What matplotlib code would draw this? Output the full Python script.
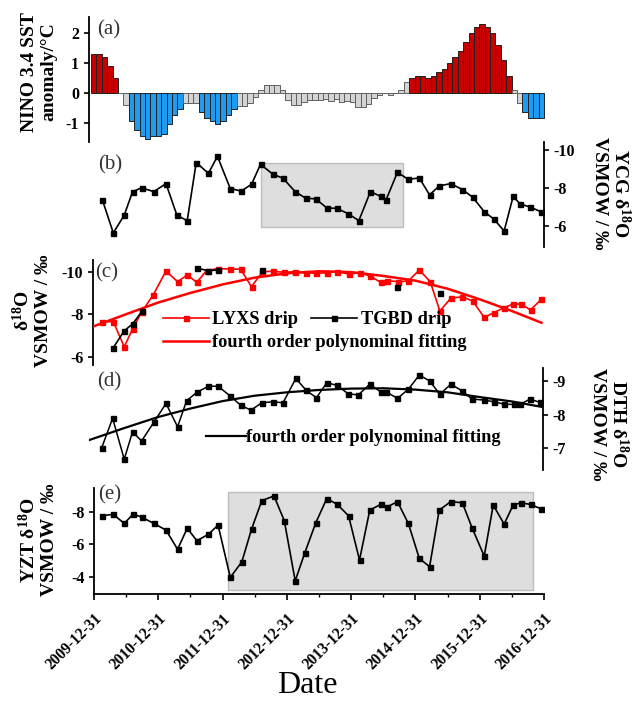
import numpy as np
import matplotlib
matplotlib.use("Agg")
import matplotlib.pyplot as plt
from matplotlib.patches import Rectangle

plt.rcParams['font.family'] = ['Liberation Serif', 'DejaVu Serif']
plt.rcParams['axes.unicode_minus'] = False
plt.rcParams['mathtext.fontset'] = 'custom'
plt.rcParams['mathtext.rm'] = 'Liberation Serif:bold'
plt.rcParams['mathtext.bf'] = 'Liberation Serif:bold'
plt.rcParams['mathtext.it'] = 'Liberation Serif:italic:bold'

# ---------------- data ----------------
nino_start_year = 2010
nino_anomaly = [1.31, 1.31, 1.2, 0.89, 0.5, 0.0, -0.41, -0.93, -1.24, -1.44, -1.54, -1.44,
                -1.44, -1.36, -1.04, -0.73, -0.52, -0.33, -0.33, -0.33, -0.63, -0.83, -0.93, -1.04,
                -0.93, -0.73, -0.52, -0.43, -0.43, -0.33, -0.13, 0.09, 0.28, 0.28, 0.28, 0.09,
                -0.22, -0.41, -0.41, -0.3, -0.22, -0.22, -0.22, -0.2, -0.25, -0.2, -0.3, -0.25,
                -0.3, -0.48, -0.48, -0.38, -0.15, -0.08, 0.0, -0.05, 0.0, 0.1, 0.38, 0.5,
                0.58, 0.58, 0.5, 0.58, 0.69, 0.79, 1.0, 1.19, 1.39, 1.7, 2.0, 2.2,
                2.31, 2.2, 2.0, 1.61, 1.09, 0.58, 0.09, -0.32, -0.63, -0.82, -0.82, -0.82]

ycg_t = [2010.13, 2010.30, 2010.47, 2010.60, 2010.74, 2010.93, 2011.12, 2011.29, 2011.45, 2011.59,
         2011.78, 2011.92, 2012.12, 2012.29, 2012.45, 2012.59, 2012.78, 2012.94, 2013.13, 2013.29,
         2013.45, 2013.62, 2013.78, 2013.95, 2014.12, 2014.30, 2014.46, 2014.54, 2014.72, 2014.89,
         2015.06, 2015.22, 2015.37, 2015.55, 2015.73, 2015.89, 2016.07, 2016.22, 2016.38, 2016.52,
         2016.63, 2016.78, 2016.95]
ycg_d18o = [-7.38, -5.65, -6.57, -7.81, -8.01, -7.81, -8.23, -6.57, -6.29, -9.33,
            -8.77, -9.66, -7.97, -7.84, -8.19, -9.24, -8.73, -8.51, -7.81, -7.47,
            -7.43, -6.96, -6.93, -6.66, -6.29, -7.81, -7.56, -7.35, -8.82, -8.45,
            -8.53, -7.64, -8.11, -8.23, -7.92, -7.52, -6.76, -6.37, -5.75, -7.56,
            -7.16, -7.01, -6.76]
ycg_box_t = [2012.59, 2014.80]
ycg_box_v = [-9.33, -5.95]

lyxs_t = [2010.12, 2010.30, 2010.47, 2010.60, 2010.74, 2010.92, 2011.12, 2011.30, 2011.45, 2011.60,
          2011.75, 2011.93, 2012.12, 2012.28, 2012.45, 2012.62, 2012.79, 2012.96, 2013.12, 2013.29,
          2013.45, 2013.62, 2013.78, 2013.96, 2014.13, 2014.29, 2014.46, 2014.55, 2014.73, 2014.89,
          2015.06, 2015.23, 2015.38, 2015.55, 2015.73, 2015.89, 2016.07, 2016.22, 2016.38, 2016.52,
          2016.64, 2016.79, 2016.96]
lyxs_d18o = [-7.65, -7.65, -6.47, -7.30, -8.10, -8.90, -10.03, -9.53, -9.84, -9.50,
             -10.05, -10.15, -10.12, -10.12, -9.29, -10.0, -10.02, -9.97, -10.0, -9.95,
             -9.92, -9.95, -10.0, -9.89, -9.95, -9.8, -9.5, -9.58, -9.53, -9.56,
             -10.08, -9.53, -8.15, -8.75, -8.82, -8.62, -7.85, -8.07, -8.31, -8.48,
             -8.48, -8.2, -8.7]
tgbd_t = [2010.30, 2010.47, 2010.60, 2010.75, 2011.0, 2011.60, 2011.78, 2011.93, 2012.3,
          2012.61, 2013.0, 2014.72, 2015.0, 2015.38]
tgbd_d18o = [-6.42, -7.22, -7.54, -8.15, np.nan, -10.16, -10.05, -10.08, np.nan,
             -10.08, np.nan, -9.27, np.nan, -8.98]
lyxs_fit_t = [2009.95, 2010.5, 2011.0, 2011.5, 2012.0, 2012.5, 2013.0, 2013.5, 2014.0,
              2014.5, 2015.0, 2015.5, 2016.0, 2016.5, 2016.96]
lyxs_fit_v = [-7.38, -8.0, -8.55, -9.0, -9.4, -9.72, -9.92, -10.02, -9.98,
              -9.8, -9.58, -9.2, -8.7, -8.15, -7.6]

dth_t = [2010.12, 2010.29, 2010.47, 2010.60, 2010.74, 2010.93, 2011.12, 2011.30, 2011.44, 2011.60,
         2011.78, 2011.93, 2012.12, 2012.28, 2012.44, 2012.61, 2012.78, 2012.94, 2013.14, 2013.30,
         2013.46, 2013.62, 2013.78, 2013.95, 2014.11, 2014.29, 2014.47, 2014.54, 2014.72, 2014.89,
         2015.06, 2015.22, 2015.38, 2015.55, 2015.73, 2015.88, 2016.07, 2016.22, 2016.38, 2016.53,
         2016.63, 2016.78, 2016.94]
dth_d18o = [-7.02, -7.89, -6.68, -7.49, -7.22, -7.77, -8.33, -7.64, -8.41, -8.66,
            -8.84, -8.84, -8.55, -8.28, -8.13, -8.35, -8.38, -8.35, -9.07, -8.72,
            -8.5, -8.94, -8.87, -8.62, -8.58, -8.9, -8.66, -8.68, -8.48, -8.75,
            -9.17, -9.0, -8.6, -8.9, -8.7, -8.46, -8.43, -8.38, -8.31, -8.3,
            -8.3, -8.46, -8.36]
dth_fit_t = [2009.93, 2010.5, 2011.0, 2011.5, 2012.0, 2012.5, 2013.0, 2013.5, 2014.0,
             2014.5, 2015.0, 2015.5, 2016.0, 2016.5, 2016.96]
dth_fit_v = [-7.25, -7.62, -7.93, -8.18, -8.4, -8.56, -8.66, -8.73, -8.77,
             -8.78, -8.74, -8.66, -8.52, -8.39, -8.23]

yzt_t = [2010.12, 2010.30, 2010.47, 2010.61, 2010.75, 2010.93, 2011.12, 2011.30, 2011.45, 2011.60,
         2011.78, 2011.93, 2012.12, 2012.30, 2012.45, 2012.61, 2012.80, 2012.96, 2013.13, 2013.28,
         2013.45, 2013.62, 2013.78, 2013.96, 2014.13, 2014.29, 2014.46, 2014.55, 2014.72, 2014.89,
         2015.06, 2015.22, 2015.37, 2015.55, 2015.73, 2015.88, 2016.07, 2016.21, 2016.38, 2016.52,
         2016.64, 2016.79, 2016.96]
yzt_d18o = [-7.75, -7.84, -7.28, -7.86, -7.65, -7.28, -6.87, -5.69, -6.98, -6.22,
            -6.61, -7.18, -3.96, -4.92, -6.92, -8.68, -8.97, -7.45, -3.75, -5.48,
            -7.32, -8.8, -8.47, -7.75, -5.03, -8.1, -8.45, -8.27, -8.62, -7.28,
            -5.13, -4.62, -8.1, -8.62, -8.55, -7.02, -5.27, -8.41, -7.24, -8.41,
            -8.55, -8.45, -8.17]
yzt_box_t = [2012.09, 2016.83]
yzt_box_v = [-9.23, -3.17]

year_ticks = [2010, 2011, 2012, 2013, 2014, 2015, 2016, 2017]
year_labels = ['2009-12-31', '2010-12-31', '2011-12-31', '2012-12-31',
               '2013-12-31', '2014-12-31', '2015-12-31', '2016-12-31']

# ---------------- layout ----------------
W, H = 634, 701
fig = plt.figure(figsize=(W / 100, H / 100), dpi=100)


def add_ax(left, right, top, bottom, x0=94.0, ppy=450.0 / 7):
    ax = fig.add_axes([left / W, 1 - bottom / H, (right - left) / W, (bottom - top) / H])
    ax.set_facecolor('none')
    ax.set_xlim(2010 + (left - x0) / ppy, 2010 + (right - x0) / ppy)
    for s in ax.spines.values():
        s.set_visible(False)
        s.set_linewidth(1.3)
    ax.set_xticks([])
    ax.tick_params(axis='y', direction='out', length=3.5, width=1.2, labelsize=11.5)
    return ax


MS = 3.6

# (a)
axA = add_ax(89, 546, 17, 142, x0=91.0, ppy=453.0 / 7)
axA.spines['left'].set_visible(True)
axA.set_ylim(-1.63, 2.53)
axA.set_yticks([-1, 0, 1, 2])
colors = []
for v in nino_anomaly:
    if v >= 0.5:
        colors.append('#C80000')
    elif v <= -0.5:
        colors.append('#1E9BF0')
    else:
        colors.append('#D4D4D4')
edges = ['#222222' if c != '#D4D4D4' else '#606060' for c in colors]
bx = [nino_start_year + i / 12 for i in range(len(nino_anomaly))]
axA.bar(bx, nino_anomaly, width=1 / 12, align='edge', color=colors, edgecolor=edges, linewidth=0.7)

# (b)
axB = add_ax(89, 544, 142, 247)
axB.spines['right'].set_visible(True)
axB.yaxis.tick_right()
axB.set_ylim(-4.91, -10.41)
axB.set_yticks([-10, -8, -6])
axB.add_patch(Rectangle((ycg_box_t[0], ycg_box_v[0]), ycg_box_t[1] - ycg_box_t[0],
                        ycg_box_v[1] - ycg_box_v[0], facecolor='#DEDEDE', edgecolor='#BDBDBD',
                        lw=1.0, zorder=0))
axB.plot(ycg_t, ycg_d18o, color='black', lw=1.2, marker='s', ms=MS)

# (c)
axC = add_ax(93, 546, 260, 365)
axC.spines['left'].set_visible(True)
axC.set_ylim(-5.61, -10.55)
axC.set_yticks([-10, -8, -6])
l_fit, = axC.plot(lyxs_fit_t, lyxs_fit_v, color='#FF0000', lw=1.8, zorder=4)
l_lyxs, = axC.plot(lyxs_t, lyxs_d18o, color='#FF0000', lw=1.2, marker='s', ms=MS, zorder=3)
l_tgbd, = axC.plot(tgbd_t, tgbd_d18o, color='black', lw=1.2, marker='s', ms=MS, zorder=5)
lp = dict(family='Liberation Serif', weight='bold', size=13.2)
leg1 = axC.legend([l_lyxs, l_tgbd], ['LYXS drip', 'TGBD drip'], ncol=2, loc='upper left',
                  bbox_to_anchor=(163 / W, 1 - 311 / H), bbox_transform=fig.transFigure,
                  frameon=False, borderpad=0, borderaxespad=0, handlelength=2.5,
                  handletextpad=0.2, columnspacing=0.7, prop=lp)
axC.add_artist(leg1)
axC.legend([l_fit], ['fourth order polynominal fitting'], loc='upper left',
           bbox_to_anchor=(163 / W, 1 - 334 / H), bbox_transform=fig.transFigure,
           frameon=False, borderpad=0, borderaxespad=0, handlelength=2.5,
           handletextpad=0.2, prop=lp)

# (d)
axD = add_ax(89, 543, 368, 470)
axD.spines['right'].set_visible(True)
axD.yaxis.tick_right()
axD.set_ylim(-6.36, -9.38)
axD.set_yticks([-9, -8, -7])
d_fit, = axD.plot(dth_fit_t, dth_fit_v, color='black', lw=1.6)
axD.plot(dth_t, dth_d18o, color='black', lw=1.1, marker='s', ms=MS)
axD.legend([d_fit], ['fourth order polynominal fitting'], loc='upper left',
           bbox_to_anchor=(206 / W, 1 - 429 / H), bbox_transform=fig.transFigure,
           frameon=False, borderpad=0, borderaxespad=0, handlelength=2.2,
           handletextpad=0.0, prop=lp)

# (e)
axE = add_ax(94, 544, 488, 594)
axE.spines['left'].set_visible(True)
axE.spines['bottom'].set_visible(True)
axE.set_ylim(-2.94, -9.46)
axE.set_yticks([-8, -6, -4])
axE.add_patch(Rectangle((yzt_box_t[0], yzt_box_v[0]), yzt_box_t[1] - yzt_box_t[0],
                        yzt_box_v[1] - yzt_box_v[0], facecolor='#DEDEDE', edgecolor='#BDBDBD',
                        lw=1.0, zorder=0))
axE.plot(yzt_t, yzt_d18o, color='black', lw=1.2, marker='s', ms=MS)
axE.set_xticks(year_ticks)
axE.set_xticks([y + 0.5 for y in year_ticks[:-1]], minor=True)
axE.set_xticklabels(year_labels, rotation=45, ha='right', rotation_mode='anchor',
                    fontsize=11.2, fontweight='bold')
axE.tick_params(axis='x', which='major', direction='out', length=4, width=1.2, pad=8)
axE.tick_params(axis='x', which='minor', direction='out', length=2.5, width=1.0)
for ax in (axA, axB, axC, axD, axE):
    for lab in ax.get_yticklabels():
        lab.set_fontweight('bold')

# labels
def ftext(x, y, s, va='center', **kw):
    fig.text(x / W, 1 - y / H, s, ha='center', va=va, **kw)

ftext(39, 72, 'NINO 3.4 SST\nanomaly/°C', rotation=90, fontsize=14, fontweight='bold')
ftext(32, 311, 'δ$^{18}$O\nVSMOW / ‰', rotation=90, fontsize=14, fontweight='bold')
ftext(38, 540, 'YZT δ$^{18}$O\nVSMOW / ‰', rotation=90, fontsize=14, fontweight='bold')
ftext(611, 193, 'YCG δ$^{18}$O\nVSMOW / ‰', rotation=270, fontsize=14, fontweight='bold')
ftext(609, 424, 'DTH δ$^{18}$O\nVSMOW / ‰', rotation=270, fontsize=14, fontweight='bold')

for lab, (x, y) in zip(['(a)', '(b)', '(c)', '(d)', '(e)'],
                       [(109, 30), (110, 165), (107, 273), (109, 382), (110, 495)]):
    ftext(x, y, lab, fontsize=15, color='#333333')

ftext(307, 693, 'Date', va='baseline', fontsize=23)

fig.savefig('out.png', dpi=100)
